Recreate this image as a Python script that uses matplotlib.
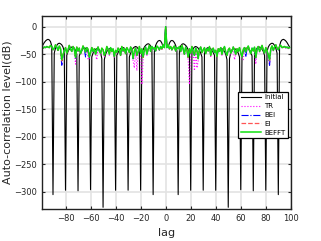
import numpy as np
import matplotlib
matplotlib.use("Agg")
import matplotlib.pyplot as plt

# One-sided autocorrelation levels (dB) for lags 0..99; the function is symmetric in lag
initial_half = [0, -34, -37, -30, -26, -25, -26, -29, -34, -44,
                -305, -42, -35, -32, -31, -32, -34, -37, -42, -50,
                -297, -46, -40, -37, -36, -37, -39, -43, -48, -55,
                -297, -48, -42, -39, -38, -38, -40, -43, -47, -52,
                -297, -50, -44, -41, -40, -40, -42, -45, -50, -60,
                -328, -58, -47, -42, -40, -40, -41, -44, -48, -55,
                -296, -52, -45, -41, -39, -39, -40, -43, -47, -53,
                -298, -50, -43, -39, -37, -37, -38, -41, -45, -52,
                -297, -45, -37, -33, -31, -30, -31, -34, -39, -48,
                -305, -35, -27, -24, -23, -24, -26, -29, -33, -37]

beffT_half = [0, -38, -33, -40, -36, -42, -38, -35, -44, -38,
              -40, -36, -45, -34, -41, -50, -37, -43, -55, -40,
              -48, -36, -46, -52, -39, -44, -58, -41, -37, -47,
              -42, -38, -49, -40, -44, -36, -52, -42, -39, -47,
              -43, -54, -40, -45, -38, -50, -41, -36, -46, -52,
              -42, -39, -48, -44, -37, -42, -50, -40, -45, -38,
              -47, -55, -41, -38, -46, -40, -35, -43, -49, -39,
              -44, -37, -56, -41, -36, -45, -40, -34, -42, -48,
              -38, -44, -51, -60, -40, -35, -43, -37, -33, -39,
              -42, -36, -34, -38, -37, -36, -38, -37, -39, -38]

tr_half = [0, -37, -34, -41, -37, -43, -37, -36, -45, -39,
           -41, -37, -46, -35, -42, -52, -38, -44, -60, -105,
           -49, -37, -47, -80, -40, -75, -62, -42, -38, -48,
           -43, -39, -50, -41, -45, -37, -54, -43, -40, -48,
           -44, -56, -41, -46, -39, -52, -42, -37, -47, -54,
           -43, -40, -50, -45, -38, -60, -51, -41, -46, -39,
           -48, -57, -60, -39, -47, -41, -36, -44, -50, -40,
           -45, -38, -68, -42, -37, -46, -41, -35, -43, -49,
           -39, -45, -52, -70, -41, -36, -44, -38, -34, -40,
           -43, -37, -35, -39, -38, -37, -39, -38, -40, -39]

bei_half = [0, -38, -34, -40, -37, -42, -38, -36, -44, -38,
            -41, -36, -45, -35, -41, -51, -37, -43, -56, -41,
            -48, -37, -46, -53, -39, -45, -58, -41, -37, -47,
            -42, -39, -49, -40, -44, -37, -52, -42, -39, -47,
            -43, -54, -41, -45, -38, -50, -41, -37, -46, -52,
            -42, -40, -48, -44, -37, -43, -50, -40, -45, -38,
            -47, -55, -42, -38, -55, -40, -36, -43, -49, -39,
            -44, -37, -57, -41, -36, -45, -40, -35, -42, -48,
            -38, -44, -52, -70, -40, -35, -43, -37, -33, -39,
            -42, -36, -35, -38, -37, -36, -38, -37, -39, -38]

ei_half = [0, -38, -33, -41, -36, -42, -38, -35, -44, -39,
           -40, -36, -45, -34, -41, -50, -37, -43, -56, -40,
           -48, -36, -46, -52, -39, -44, -58, -41, -37, -47,
           -42, -38, -49, -40, -44, -36, -52, -42, -39, -47,
           -43, -54, -40, -45, -38, -50, -41, -36, -46, -52,
           -42, -39, -48, -44, -37, -42, -50, -40, -45, -38,
           -47, -55, -41, -38, -46, -40, -35, -43, -49, -39,
           -44, -37, -56, -41, -36, -45, -40, -34, -42, -48,
           -38, -44, -51, -62, -40, -35, -43, -37, -33, -39,
           -42, -36, -34, -38, -37, -36, -38, -37, -39, -38]

labels = ["Initial", "TR", "BEI", "EI", "BEFFT"]
xticks = [-80, -60, -40, -20, 0, 20, 40, 60, 80, 100]
yticks = [-300, -250, -200, -150, -100, -50, 0]


def full(half):
    h = np.asarray(half, dtype=float)
    return np.concatenate([h[:0:-1], h])


lags = np.arange(-99, 100)

fig = plt.figure(figsize=(3.21, 2.41), dpi=100)
ax = fig.add_axes([0.130, 0.133, 0.776, 0.802])

ax.plot(lags, full(initial_half), color="black", lw=0.8, label=labels[0])
ax.plot(lags, full(tr_half), color="#ff00ff", lw=0.8, ls=":", label=labels[1])
ax.plot(lags, full(bei_half), color="#0000ff", lw=0.8, ls="-.", label=labels[2])
ax.plot(lags, full(ei_half), color="#ff5555", lw=0.9, ls="--", label=labels[3])
ax.plot(lags, full(beffT_half), color="#11e011", lw=1.1, label=labels[4])

ax.set_xlim(-99, 100)
ax.set_ylim(-331, 20)
ax.set_xticks(xticks)
ax.set_yticks(yticks)
ax.grid(True, color="#e3e3e3", lw=1.2)
ax.set_axisbelow(True)
ax.tick_params(direction="in", top=True, right=True, length=2.5, width=0.8,
               labelsize=6, colors="#262626")
for s in ax.spines.values():
    s.set_linewidth(1.0)
    s.set_color("#222222")

ax.set_xlabel("lag", fontsize=8, color="#262626", labelpad=4)
ax.set_ylabel("Auto-correlation level(dB)", fontsize=8, color="#262626", labelpad=1)

leg = ax.legend(loc="lower right", bbox_to_anchor=(0.995, 0.36), fontsize=5,
                frameon=True, fancybox=False, edgecolor="black", framealpha=1,
                borderpad=0.35, labelspacing=0.4, handlelength=2.9,
                handletextpad=0.5, borderaxespad=0.2)
leg.get_frame().set_linewidth(0.9)

fig.savefig("out.png", dpi=100)
